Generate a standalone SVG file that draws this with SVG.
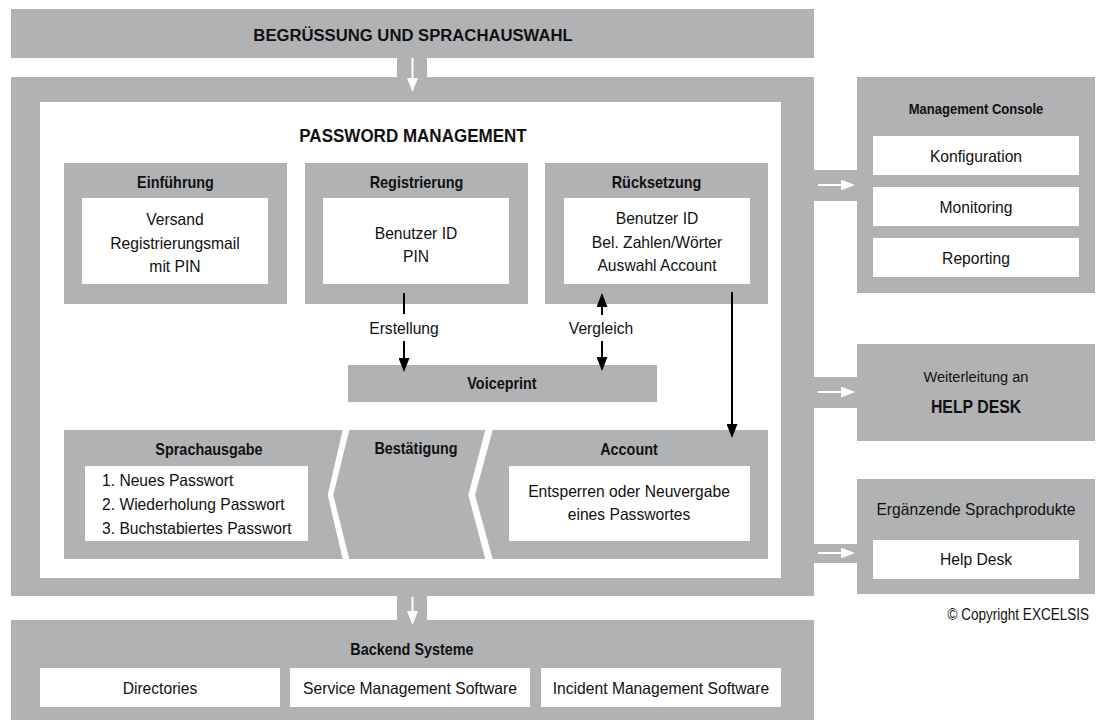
<svg xmlns="http://www.w3.org/2000/svg" width="1102" height="722" viewBox="0 0 1102 722">
<defs>
<style>
.g{fill:#b1b2b4}
.w{fill:#fff}
text{font-family:"Liberation Sans",Arial,sans-serif;font-size:16.3px;fill:#111;text-anchor:middle;transform-box:fill-box;transform-origin:center;transform:scaleX(.96)}
text.l{text-anchor:start;transform-origin:left center}
text.r{text-anchor:end;transform-origin:right center}
.b{font-weight:bold}
text.h{font-size:16px;transform:scaleX(.9)}
text.t1{font-size:17px;transform:scaleX(.98)}
text.t2{font-size:18.5px;transform:scaleX(.92)}
text.mc{font-size:14.5px;transform:scaleX(.9)}
text.hd{font-size:18px;transform:scaleX(.88)}
text.wa{font-size:15.5px;transform:scaleX(.94)}
text.cp{font-size:16.3px;transform:scaleX(.83)}
.ln{stroke:#000;stroke-width:2;fill:none}
.wl{stroke:#fff;stroke-width:2;fill:none}
</style>
<marker id="ab" viewBox="0 0 14 11" markerWidth="14" markerHeight="11" refX="4" refY="5.5" markerUnits="userSpaceOnUse" orient="auto-start-reverse"><path d="M0,0L14,5.5L0,11z" fill="#000"/></marker>
<marker id="aw" viewBox="0 0 14 11" markerWidth="14" markerHeight="11" refX="4" refY="5.5" markerUnits="userSpaceOnUse" orient="auto"><path d="M0,0L14,5.5L0,11z" fill="#fff"/></marker>
</defs>

<g id="begruessung">
<rect class="g" x="11" y="9" width="803" height="49"/>
<text class="b t1" x="413" y="41">BEGRÜSSUNG UND SPRACHAUSWAHL</text>
</g>

<g id="password-management">
<path class="g" fill-rule="evenodd" d="M11,77H814V596H11Z M40,102V578H781V102Z"/>
<text class="b t2" x="413" y="142">PASSWORD MANAGEMENT</text>
</g>

<g id="einfuehrung">
<rect class="g" x="64" y="163" width="223" height="141"/>
<rect class="w" x="82" y="198" width="186" height="86"/>
<text class="b h" x="175.5" y="188">Einführung</text>
<text x="175" y="225">Versand</text>
<text x="175" y="249">Registrierungsmail</text>
<text x="175" y="272">mit PIN</text>
</g>

<g id="registrierung">
<rect class="g" x="305" y="163" width="223" height="141"/>
<rect class="w" x="323" y="198" width="186" height="86"/>
<text class="b h" x="416.5" y="188">Registrierung</text>
<text x="416" y="239">Benutzer ID</text>
<text x="416" y="262">PIN</text>
</g>

<g id="ruecksetzung">
<rect class="g" x="545" y="163" width="223" height="141"/>
<rect class="w" x="564" y="198" width="186" height="86"/>
<text class="b h" x="656.5" y="188">Rücksetzung</text>
<text x="657" y="224">Benutzer ID</text>
<text x="657" y="248">Bel. Zahlen/Wörter</text>
<text x="657" y="271">Auswahl Account</text>
</g>

<g id="voiceprint">
<rect class="g" x="348" y="365" width="309" height="37"/>
<text class="b h" x="502" y="389">Voiceprint</text>
</g>

<g id="sprachausgabe">
<path class="g" d="M64,430H342.7L327.7,495L342.7,559H64Z"/>
<rect class="w" x="85" y="466" width="223" height="75"/>
<text class="b h" x="209" y="455">Sprachausgabe</text>
<text class="l" x="102" y="486">1. Neues Passwort</text>
<text class="l" x="102" y="510">2. Wiederholung Passwort</text>
<text class="l" x="102" y="534">3. Buchstabiertes Passwort</text>
</g>

<g id="bestaetigung">
<path class="g" d="M349.3,430H485.3L468.3,495L485.3,559H349.3L333.3,495Z"/>
<text class="b h" x="416" y="454">Bestätigung</text>
</g>

<g id="account">
<path class="g" d="M492.7,430H768V559H492.7L475,495Z"/>
<rect class="w" x="509" y="466" width="241" height="75"/>
<text class="b h" x="629" y="455">Account</text>
<text x="629" y="497">Entsperren oder Neuvergabe</text>
<text x="629" y="520">eines Passwortes</text>
</g>

<g id="management-console">
<rect class="g" x="857" y="77" width="238" height="216"/>
<text class="b mc" x="976" y="114">Management Console</text>
<rect class="w" x="873" y="136" width="206" height="39"/>
<text x="976" y="162">Konfiguration</text>
<rect class="w" x="873" y="187" width="206" height="39"/>
<text x="976" y="213">Monitoring</text>
<rect class="w" x="873" y="238" width="206" height="39"/>
<text x="976" y="264">Reporting</text>
</g>

<g id="help-desk-weiterleitung">
<rect class="g" x="857" y="344" width="238" height="97"/>
<text class="wa" x="976" y="382">Weiterleitung an</text>
<text class="b hd" x="976" y="413">HELP DESK</text>
</g>

<g id="ergaenzende-sprachprodukte">
<rect class="g" x="857" y="479" width="238" height="115"/>
<text x="976" y="515">Ergänzende Sprachprodukte</text>
<rect class="w" x="873" y="540" width="206" height="39"/>
<text x="976" y="565">Help Desk</text>
</g>

<g id="backend-systeme">
<rect class="g" x="11" y="620" width="803" height="100"/>
<text class="b h" x="412" y="655">Backend Systeme</text>
<rect class="w" x="40" y="668" width="240" height="39"/>
<text x="160" y="694">Directories</text>
<rect class="w" x="290" y="668" width="240" height="39"/>
<text x="410" y="694">Service Management Software</text>
<rect class="w" x="541" y="668" width="240" height="39"/>
<text x="661" y="694">Incident Management Software</text>
</g>

<g id="copyright">
<text class="r cp" x="1089" y="620">© Copyright EXCELSIS</text>
</g>

<g id="connectors">
<rect class="g" x="397" y="58" width="30" height="19"/>
<rect class="g" x="397" y="596" width="30" height="24"/>
<rect class="g" x="814" y="170" width="43" height="31"/>
<rect class="g" x="814" y="377" width="43" height="31"/>
<rect class="g" x="814" y="544" width="43" height="19"/>
<line class="wl" x1="412.5" y1="58" x2="412.5" y2="82" marker-end="url(#aw)"/>
<line class="wl" x1="412.5" y1="597" x2="412.5" y2="615" marker-end="url(#aw)"/>
<line class="wl" x1="818" y1="185" x2="845" y2="185" marker-end="url(#aw)"/>
<line class="wl" x1="818" y1="392" x2="845" y2="392" marker-end="url(#aw)"/>
<line class="wl" x1="818" y1="553" x2="845" y2="553" marker-end="url(#aw)"/>
<line class="ln" x1="404" y1="293" x2="404" y2="314"/>
<text x="404" y="334">Erstellung</text>
<line class="ln" x1="404" y1="341" x2="404" y2="362" marker-end="url(#ab)"/>
<line class="ln" x1="602" y1="315" x2="602" y2="303" marker-end="url(#ab)"/>
<text x="601" y="334">Vergleich</text>
<line class="ln" x1="602" y1="341" x2="602" y2="361" marker-end="url(#ab)"/>
<line class="ln" x1="732" y1="292" x2="732" y2="428" marker-end="url(#ab)"/>
</g>
</svg>
